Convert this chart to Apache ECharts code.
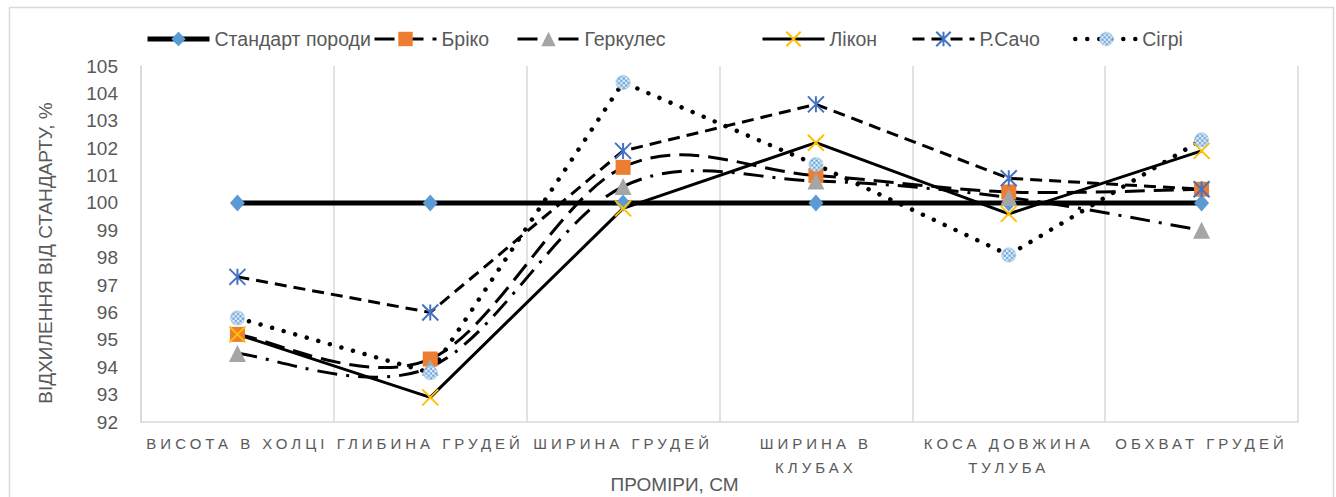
<!DOCTYPE html>
<html>
<head>
<meta charset="utf-8">
<script src="https://cdn.jsdelivr.net/npm/echarts@6/dist/echarts.min.js"></script>
<style>
  html, body { margin: 0; padding: 0; background: #fff; }
  #chart { width: 1336px; height: 497px; }
</style>
</head>
<body>
<div id="chart"></div>
<script>
// Measurements, % of breed standard
const categories = ['ВИСОТА В ХОЛЦІ', 'ГЛИБИНА ГРУДЕЙ', 'ШИРИНА ГРУДЕЙ', 'ШИРИНА В КЛУБАХ', 'КОСА ДОВЖИНА ТУЛУБА', 'ОБХВАТ ГРУДЕЙ'];
const standard = [100, 100, 100, 100, 100, 100];
const briko    = [95.2, 94.3, 101.3, 101.0, 100.4, 100.5];
const gerkules = [94.5, 94.0, 100.6, 100.8, 100.2, 99.0];
const likon    = [95.2, 92.9, 99.8, 102.2, 99.6, 101.9];
const rSacho   = [97.3, 96.0, 101.9, 103.6, 100.9, 100.5];
const sigri    = [95.8, 93.8, 104.4, 101.4, 98.1, 102.3];
const yMin = 92, yMax = 105, yStep = 1;
const yTitle = 'ВІДХИЛЕННЯ ВІД СТАНДАРТУ, %';
const xTitle = 'ПРОМІРИ, СМ';

const FONT = '"Liberation Sans Narrow", "Arial Narrow", "Liberation Sans", Arial, sans-serif';
const TEXT = '#595959';
const GRID = '#D9D9D9';

// checkered round marker
const checkerSymbol = (() => {
  const s = 32, c = document.createElement('canvas');
  c.width = c.height = s;
  const g = c.getContext('2d');
  g.beginPath(); g.arc(s / 2, s / 2, s / 2 - 1.5, 0, Math.PI * 2); g.closePath();
  g.save(); g.clip();
  g.fillStyle = '#EAF2FA'; g.fillRect(0, 0, s, s);
  g.fillStyle = '#6FA6DA';
  const cell = 5;
  for (let y = 0; y < s; y += cell)
    for (let x = 0; x < s; x += cell)
      if (((x + y) / cell) % 2 === 0) g.fillRect(x, y, cell, cell);
  g.restore();
  g.lineWidth = 2; g.strokeStyle = '#9DC3E6'; g.stroke();
  return 'image://' + c.toDataURL();
})();

const crossSymbol = 'path://M0,0L16,16M16,0L0,16';
const starSymbol = 'path://M0,0L16,16M16,0L0,16M8,0L8,16';

const styles = {
  'Стандарт породи': { line: { color: '#000', width: 5, type: 'solid' }, symbol: 'diamond', size: [15, 17], item: { color: '#5B9BD5' } },
  'Бріко':    { line: { color: '#000', width: 3, type: [20, 9] }, symbol: 'rect', size: 15, item: { color: '#ED7D31' } },
  'Геркулес': { line: { color: '#000', width: 3, type: [20, 9, 3, 9] }, symbol: 'triangle', size: 17, item: { color: '#A5A5A5' } },
  'Лікон':    { line: { color: '#000', width: 3, type: 'solid' }, symbol: crossSymbol, size: 16, item: { color: '#FFC000', borderColor: '#FFC000', borderWidth: 2 } },
  'Р.Сачо':   { line: { color: '#000', width: 3, type: [12, 7] }, symbol: starSymbol, size: 16, item: { color: '#4472C4', borderColor: '#4472C4', borderWidth: 2 } },
  'Сігрі':    { line: { color: '#000', width: 4.5, type: [0.01, 12], cap: 'round' }, symbol: checkerSymbol, size: 15, item: {} }
};

function lineSeries(name, values, hideLine) {
  const st = styles[name];
  return {
    type: 'line', name, data: values,
    symbol: st.symbol, symbolSize: st.size, showAllSymbol: true,
    itemStyle: Object.assign({ opacity: 1 }, st.item),
    lineStyle: Object.assign({}, st.line, hideLine ? { opacity: 0 } : { opacity: 1 }),
    emphasis: { disabled: true },
    z: 3
  };
}

// smoothed line (Catmull-Rom bezier segments) through the series values
function curveSeries(name, values) {
  const st = styles[name].line;
  const n = values.length;
  const clampIdx = k => Math.max(0, Math.min(n - 1, k));
  return {
    type: 'custom', name: name + ' (згладжено)', coordinateSystem: 'cartesian2d', silent: true, z: 3,
    data: values.map((v, i) => [i, v]),
    encode: { x: 0, y: 1 },
    renderItem(params, api) {
      const i = params.dataIndex;
      if (i >= n - 1) return null;
      const pt = k => api.coord([clampIdx(k), values[clampIdx(k)]]);
      const p0 = pt(i - 1), p1 = pt(i), p2 = pt(i + 1), p3 = pt(i + 2);
      return {
        type: 'bezierCurve',
        shape: {
          x1: p1[0], y1: p1[1], x2: p2[0], y2: p2[1],
          cpx1: p1[0] + (p2[0] - p0[0]) / 6, cpy1: p1[1] + (p2[1] - p0[1]) / 6,
          cpx2: p2[0] - (p3[0] - p1[0]) / 6, cpy2: p2[1] - (p3[1] - p1[1]) / 6
        },
        style: { stroke: st.color, lineWidth: st.width, lineDash: st.type, fill: 'none' }
      };
    }
  };
}

function legendAt(name, left) {
  const st = styles[name];
  return {
    left, top: 29, padding: 0, itemGap: 0, itemWidth: 62, itemHeight: 18,
    selectedMode: false,
    textStyle: { fontFamily: FONT, fontSize: 19.5, color: TEXT },
    data: [{
      name,
      lineStyle: Object.assign({ opacity: 1, cap: st.line.cap || 'butt' }, st.line),
      itemStyle: Object.assign({ opacity: 1, borderWidth: 0 }, st.item)
    }]
  };
}

const breakLabel = v => v.length > 14 ? v.replace(/ (\S+)$/, '\n$1') : v;
const labelLines = new Set();
categories.forEach(c => breakLabel(c).split('\n').forEach(l => labelLines.add(l)));

const chart = echarts.init(document.getElementById('chart'), null, { renderer: 'svg' });
chart.setOption({
  animation: false,
  backgroundColor: '#fff',
  graphic: [{
    type: 'rect', left: 7, top: 5, z: -1, silent: true,
    shape: { width: 1324, height: 510 },
    style: { fill: 'none', stroke: GRID, lineWidth: 1.5 }
  }],
  legend: [
    legendAt('Стандарт породи', 145),
    legendAt('Бріко', 373),
    legendAt('Геркулес', 516),
    legendAt('Лікон', 761),
    legendAt('Р.Сачо', 911),
    legendAt('Сігрі', 1073)
  ],
  grid: { left: 141, right: 38, top: 66, bottom: 75, containLabel: false, outerBoundsMode: 'none' },
  xAxis: {
    type: 'category', data: categories, boundaryGap: true,
    name: xTitle, nameLocation: 'middle', nameGap: 53, nameMoveOverlap: false,
    nameTextStyle: { fontFamily: FONT, fontSize: 19, color: TEXT, padding: [0, 90, 0, 0] },
    axisLine: { show: true, lineStyle: { color: GRID, width: 1.5 } },
    axisTick: { show: false },
    splitLine: { show: true, lineStyle: { color: GRID, width: 1.5 } },
    axisLabel: {
      interval: 0, margin: 9, lineHeight: 24, hideOverlap: false,
      fontFamily: FONT, fontSize: 15, color: TEXT,
      formatter: breakLabel
    }
  },
  yAxis: {
    type: 'value', min: yMin, max: yMax, interval: yStep,
    name: yTitle, nameLocation: 'middle', nameGap: 86, nameRotate: 90, nameMoveOverlap: false,
    nameTextStyle: { fontFamily: FONT, fontSize: 19, color: TEXT, padding: [0, 18, 0, 0] },
    axisLine: { show: true, lineStyle: { color: GRID, width: 1.5 } },
    axisTick: { show: false },
    splitLine: { show: false },
    axisLabel: { margin: 23, fontFamily: FONT, fontSize: 19, color: TEXT }
  },
  series: [
    lineSeries('Стандарт породи', standard, false),
    curveSeries('Бріко', briko),
    lineSeries('Бріко', briko, true),
    curveSeries('Геркулес', gerkules),
    lineSeries('Геркулес', gerkules, true),
    lineSeries('Лікон', likon, false),
    lineSeries('Р.Сачо', rSacho, false),
    lineSeries('Сігрі', sigri, false)
  ]
});

// spaced capitals for the category labels
function spaceLabels() {
  document.querySelectorAll('#chart svg text').forEach(t => {
    if (labelLines.has(t.textContent)) t.style.letterSpacing = '4px';
  });
}
chart.on('finished', spaceLabels);
spaceLabels();
</script>
</body>
</html>
